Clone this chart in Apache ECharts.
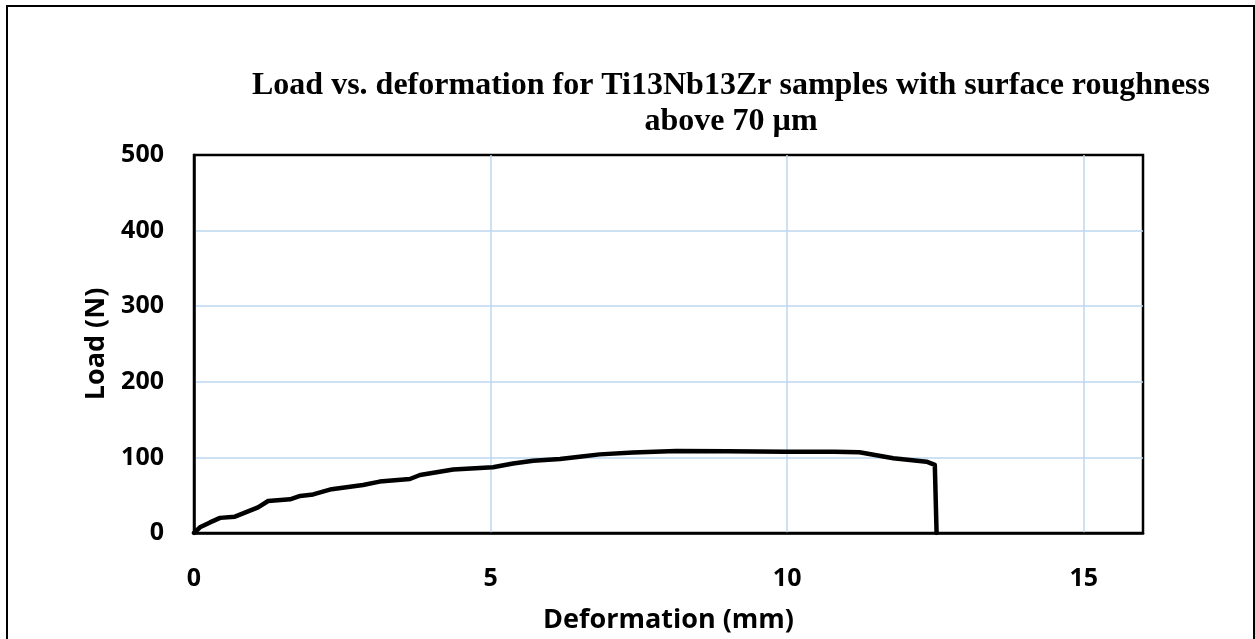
<!DOCTYPE html>
<html>
<head>
<meta charset="utf-8">
<script src="https://cdn.jsdelivr.net/npm/echarts@6/dist/echarts.min.js"></script>
<style>
  html, body { margin: 0; padding: 0; background: #fff; overflow: hidden; }
  #chart { position: absolute; left: 0; top: 0; width: 1255px; height: 639px; }
  #frame {
    position: absolute; left: 6px; top: 5px; width: 1249px; height: 700px;
    box-sizing: border-box; border: 2.5px solid #000; pointer-events: none;
  }
</style>
</head>
<body>
<div id="chart"></div>
<div id="frame"></div>
<script>
const titleLine1 = 'Load vs. deformation for Ti13Nb13Zr samples with surface roughness'
const titleLine2 = 'above 70 µm'
const xName = 'Deformation (mm)'
const yName = 'Load (N)'

// deformation (mm) and load (N)
const deformation = [0, 0.1, 0.27, 0.44, 0.69, 0.89, 1.08, 1.25, 1.62, 1.79, 2.01, 2.32, 2.85, 3.13,
  3.64, 3.81, 4.37, 5.04, 5.38, 5.72, 6.17, 6.5, 6.84, 7.4, 8.13, 9.0, 9.99, 10.8, 11.22, 11.79,
  12.35, 12.49, 12.52]
const load = [0, 7.5, 14, 20, 21.6, 28, 34, 42.3, 44.5, 49, 51, 58, 63.5, 68,
  71.4, 76.7, 84, 87, 92, 95.6, 98, 101, 104, 106.5, 108.5, 108, 107.5, 107.5, 106.7, 98.8,
  94.3, 90, 0]

const xMin = 0, xMax = 16, xStep = 5
const yMin = 0, yMax = 500, yStep = 100

const labelFont = { fontFamily: 'Open Sans', fontWeight: 'bold', fontSize: 25, color: '#000' }
const nameFont = { fontFamily: 'Open Sans', fontWeight: 'bold', fontSize: 27, color: '#000' }
const titleFont = { fontFamily: 'Liberation Serif', fontWeight: 'bold', fontSize: 32, color: '#000' }
const gridLine = { show: true, showMinLine: false, showMaxLine: false, lineStyle: { color: '#BDD7EE', width: 1.5 } }

const chart = echarts.init(document.getElementById('chart'))
chart.setOption({
  backgroundColor: '#fff',
  animation: false,
  title: [
    { text: titleLine1, left: 731, top: 70, textAlign: 'center', padding: 0, textStyle: titleFont },
    { text: titleLine2, left: 731, top: 106, textAlign: 'center', padding: 0, textStyle: titleFont }
  ],
  grid: {
    left: 194, top: 155, right: 112, bottom: 106,
    show: true, borderColor: '#000', borderWidth: 2.5, containLabel: false
  },
  xAxis: {
    type: 'value', min: xMin, max: xMax, interval: xStep,
    name: xName, nameLocation: 'middle', nameGap: 74,
    nameTextStyle: nameFont,
    axisLine: { show: true, onZero: false, lineStyle: { color: '#000', width: 2.5 } },
    axisTick: { show: false },
    axisLabel: { ...labelFont, margin: 33, showMaxLabel: false },
    splitLine: gridLine
  },
  yAxis: {
    type: 'value', min: yMin, max: yMax, interval: yStep,
    name: yName, nameLocation: 'middle', nameGap: 57, nameRotate: 90,
    nameTextStyle: nameFont,
    axisLine: { show: true, onZero: false, lineStyle: { color: '#000', width: 2.5 } },
    axisTick: { show: false },
    axisLabel: { ...labelFont, margin: 30 },
    splitLine: gridLine
  },
  series: [{
    type: 'line',
    data: deformation.map((d, i) => [d, load[i]]),
    showSymbol: false,
    smooth: false,
    lineStyle: { color: '#000', width: 4.5, join: 'round', cap: 'round' }
  }]
})
</script>
</body>
</html>
